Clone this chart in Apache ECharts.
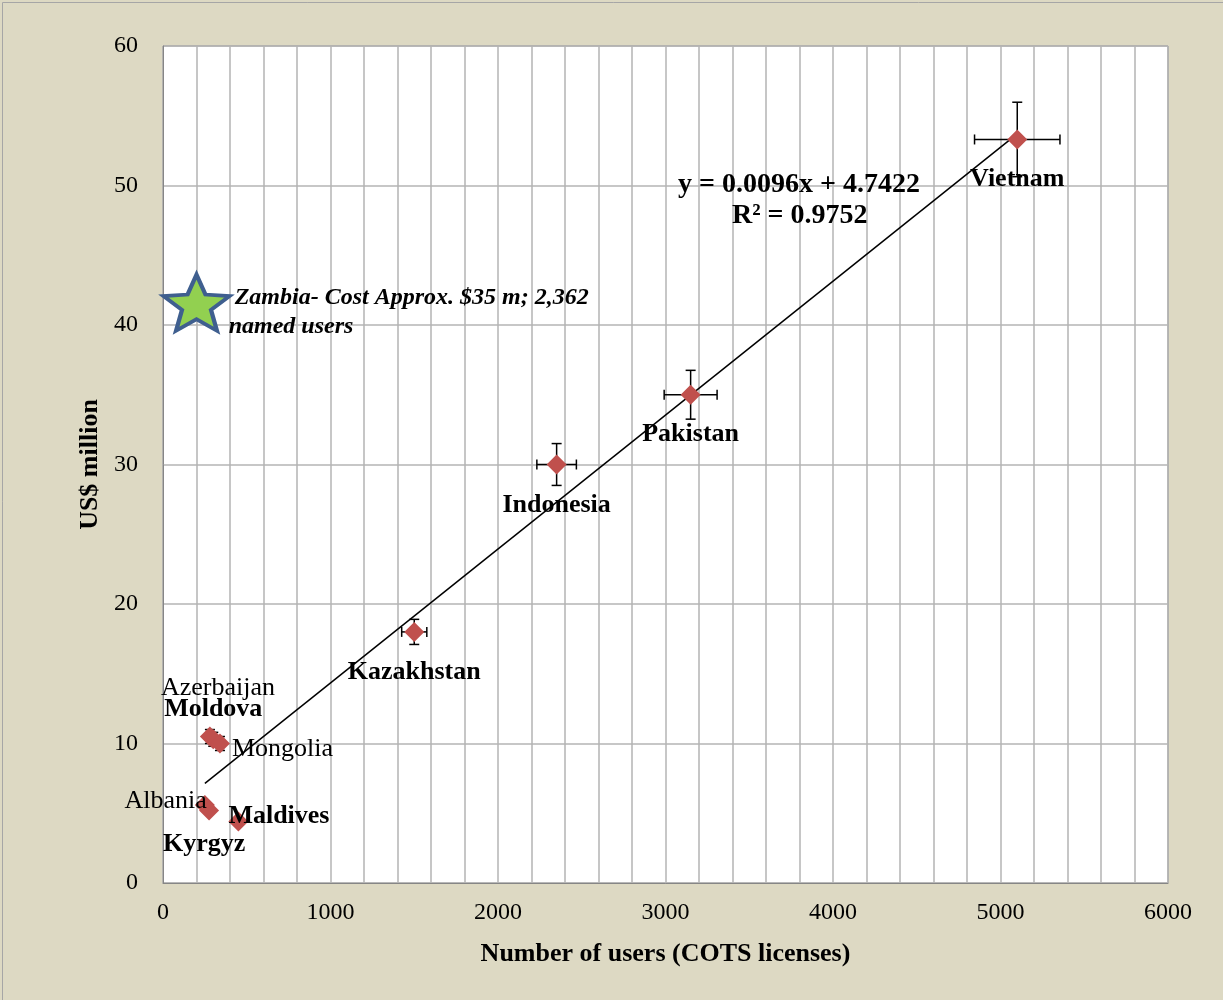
<!DOCTYPE html>
<html>
<head>
<meta charset="utf-8">
<script src="https://cdn.jsdelivr.net/npm/echarts@6/dist/echarts.min.js"></script>
<style>
  html, body { margin: 0; padding: 0; background: #DDD9C3; }
  #chart { width: 1223px; height: 1000px; }
</style>
</head>
<body>
<div id="chart"></div>
<script>
// country data
var countries = ['Vietnam', 'Pakistan', 'Indonesia', 'Kazakhstan', 'Azerbaijan', 'Moldova', 'Mongolia', 'Albania', 'Kyrgyz', 'Maldives'];
var users     = [5100, 3150, 2350, 1500, 280, 300, 340, 250, 275, 450];
var costs     = [53.3, 35.0, 30.0, 18.0, 10.5, 10.3, 10.0, 5.6, 5.2, 4.4];
var usersErr  = [255, 158, 118, 75, 14, 15, 17, 13, 14, 22];
var costsErr  = [2.67, 1.75, 1.5, 0.9, 0.5, 0.5, 0.5, 0.28, 0.26, 0.22];
var boldLabel = [true, true, true, true, false, true, false, false, true, true];

// linear trend (Excel)
var trendSlope = 0.0096;
var trendIntercept = 4.7422;
var trendRange = [250, 5100];

// Zambia marker
var zambiaUsers = [200];
var zambiaCost = [41.6];

var fontFam = '"Liberation Serif", "Times New Roman", serif';

// where each country label sits, and a pixel nudge
var labelPos = ['bottom', 'bottom', 'bottom', 'bottom', 'top', 'top', 'right', 'left', 'bottom', 'right'];
var labelDx  = [0, 0, 0, 0, 8, 0, -3, 17, -5, -25];
var labelDy  = [12, 12, 13, 12, -20, -2, 6, -4, 6, -5];

var pointData = countries.map(function (name, i) {
    return {
        name: name,
        value: [users[i], costs[i]],
        label: {
            show: true,
            formatter: name,
            position: labelPos[i],
            color: '#000',
            fontFamily: fontFam,
            fontSize: 26,
            fontWeight: boldLabel[i] ? 'bold' : 'normal'
        }
    };
});

var errData = countries.map(function (name, i) {
    return [users[i], costs[i], usersErr[i], costsErr[i]];
});

var trendData = trendRange.map(function (x) {
    return [x, trendSlope * x + trendIntercept];
});

var starPath = 'path://M50 0 L62.93 32.2 L97.55 34.55 L70.92 56.8 L79.39 90.45 L50 72 L20.61 90.45 L29.08 56.8 L2.45 34.55 L37.07 32.2 Z';

var mcharts = echarts.init(document.getElementById('chart'));

var option = {
    backgroundColor: '#DDD9C3',
    animation: false,
    textStyle: { fontFamily: fontFam },
    grid: { left: 163, right: 55, top: 46, bottom: 117, show: true, backgroundColor: '#fff', borderColor: '#868686', borderWidth: 1 },
    xAxis: {
        type: 'value',
        min: 0, max: 6000, interval: 1000,
        name: 'Number of users (COTS licenses)',
        nameLocation: 'center',
        nameGap: 58,
        nameTextStyle: { fontFamily: fontFam, fontSize: 26, fontWeight: 'bold', color: '#000' },
        axisLine: { show: true, lineStyle: { color: '#868686' } },
        axisTick: { show: false },
        axisLabel: { fontFamily: fontFam, fontSize: 24, color: '#000', margin: 18, formatter: function (v) { return String(v); } },
        splitLine: { show: true, lineStyle: { color: '#b4b4b4', width: 1.5 } },
        minorTick: { show: false, splitNumber: 5 },
        minorSplitLine: { show: true, lineStyle: { color: '#b4b4b4', width: 1.5 } }
    },
    yAxis: {
        type: 'value',
        min: 0, max: 60, interval: 10,
        name: 'US$ million',
        nameLocation: 'center',
        nameGap: 53,
        nameTextStyle: { fontFamily: fontFam, fontSize: 26, fontWeight: 'bold', color: '#000' },
        axisLine: { show: true, lineStyle: { color: '#868686' } },
        axisTick: { show: false },
        axisLabel: { fontFamily: fontFam, fontSize: 24, color: '#000', margin: 25 },
        splitLine: { show: true, lineStyle: { color: '#b4b4b4', width: 1.5 } }
    },
    series: [
        {
            // linear trend
            type: 'line',
            data: trendData,
            symbol: 'none',
            lineStyle: { color: '#000', width: 1.5 },
            z: 2
        },
        {
            // error bars
            type: 'custom',
            data: errData,
            z: 3,
            renderItem: function (params, api) {
                var x = api.value(0), y = api.value(1), ex = api.value(2), ey = api.value(3);
                var l = api.coord([x - ex, y]);
                var r = api.coord([x + ex, y]);
                var t = api.coord([x, y + ey]);
                var b = api.coord([x, y - ey]);
                var cap = 5;
                var st = { stroke: '#000', lineWidth: 1.5 };
                return {
                    type: 'group',
                    children: [
                        { type: 'line', shape: { x1: l[0], y1: l[1], x2: r[0], y2: r[1] }, style: st },
                        { type: 'line', shape: { x1: l[0], y1: l[1] - cap, x2: l[0], y2: l[1] + cap }, style: st },
                        { type: 'line', shape: { x1: r[0], y1: r[1] - cap, x2: r[0], y2: r[1] + cap }, style: st },
                        { type: 'line', shape: { x1: t[0], y1: t[1], x2: b[0], y2: b[1] }, style: st },
                        { type: 'line', shape: { x1: t[0] - cap, y1: t[1], x2: t[0] + cap, y2: t[1] }, style: st },
                        { type: 'line', shape: { x1: b[0] - cap, y1: b[1], x2: b[0] + cap, y2: b[1] }, style: st }
                    ]
                };
            }
        },
        {
            // countries
            type: 'scatter',
            data: pointData,
            symbol: 'diamond',
            symbolSize: [20, 20],
            itemStyle: { color: '#C0504D', opacity: 1 },
            labelLayout: function (params) {
                return { hideOverlap: false, dx: labelDx[params.dataIndex], dy: labelDy[params.dataIndex] };
            },
            z: 4
        },
        {
            // Zambia star
            type: 'scatter',
            data: [{
                value: [zambiaUsers[0], zambiaCost[0]],
                label: {
                    show: true,
                    position: 'right',
                    formatter: ' Zambia- Cost Approx. $35 m; 2,362\nnamed users',
                    align: 'left',
                    offset: [-8, 10],
                    color: '#000',
                    fontFamily: fontFam,
                    fontSize: 24,
                    fontStyle: 'italic',
                    fontWeight: 'bold',
                    lineHeight: 29
                }
            }],
            symbol: starPath,
            symbolSize: [66, 56],
            itemStyle: { color: '#92D050', borderColor: '#3F5F8F', borderWidth: 4, opacity: 1 },
            z: 5
        }
    ],
    graphic: [
        {
            type: 'text',
            left: 678, top: 171,
            style: { text: 'y = 0.0096x + 4.7422', fontFamily: fontFam, fontSize: 28, fontWeight: 'bold', fill: '#000' },
            z: 10
        },
        {
            type: 'text',
            left: 732, top: 202,
            style: { text: 'R² = 0.9752', fontFamily: fontFam, fontSize: 28, fontWeight: 'bold', fill: '#000' },
            z: 10
        },
        {
            type: 'rect',
            left: 0, top: 0,
            shape: { width: 1222, height: 999 },
            style: { fill: 'none', stroke: '#a6a6a6', lineWidth: 1 },
            silent: true
        }
    ]
};

mcharts.setOption(option, true);
</script>
</body>
</html>
